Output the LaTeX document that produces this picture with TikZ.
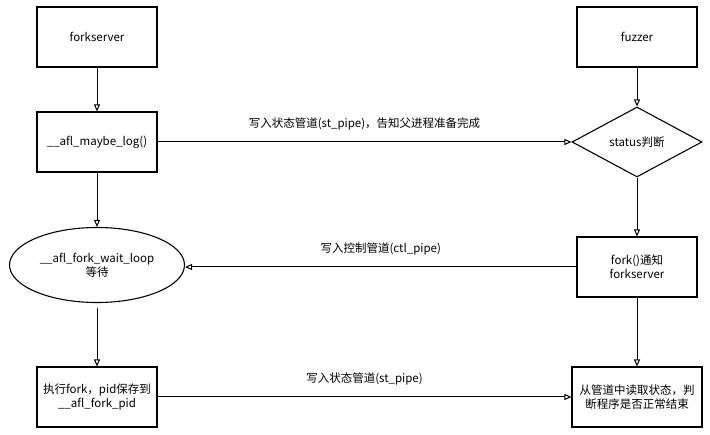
\documentclass[tikz,border=0pt]{standalone}
\usepackage{fontspec}
\setmainfont{Noto Sans CJK SC}
\usetikzlibrary{shapes.geometric,arrows.meta}
\tikzset{
  box/.style={draw,line width=1.1pt,minimum width=120pt,minimum height=60pt,inner sep=2pt,align=center,font=\fontsize{11.5}{14}\selectfont},
  flow/.style={-{Triangle[open,length=7pt,width=6pt]},line width=1pt},
  lbl/.style={font=\fontsize{11.5}{14}\selectfont}
}
\begin{document}
\begin{tikzpicture}[x=1pt,y=-1pt]
  \useasboundingbox (0,0) rectangle (710,435);
  \node [box] (fserver) at (97,37) {forkserver};
  \node [box] (maybelog) at (97,142) {\_\_afl\_maybe\_log()};
  \node [box,ellipse,minimum width=175pt,minimum height=75pt] (waitloop) at (97,265) {\_\_afl\_fork\_wait\_loop\\等待};
  \node [box] (dofork) at (97,397) {执行fork，pid保存到\\\_\_afl\_fork\_pid};
  \node [box] (fuzzer) at (637,37) {fuzzer};
  \node [box,diamond,minimum width=130pt,minimum height=70pt,inner sep=0pt] (status) at (637,142) {status判断};
  \node [box] (notify) at (637,267) {fork()通知\\forkserver};
  \node [box,minimum width=130pt] (readst) at (637,397) {从管道中读取状态，判\\断程序是否正常结束};
  \draw [flow] (fserver) -- (maybelog);
  \draw [flow] (maybelog) -- (waitloop);
  \draw [flow] (waitloop.south) ++(0,5) -- (dofork);
  \draw [flow] (fuzzer) -- (status);
  \draw [flow] (status) -- (notify);
  \draw [flow] (notify) -- (readst);
  \draw [flow] (maybelog) -- node [lbl,above=8pt] {写入状态管道(st\_pipe)，告知父进程准备完成} (status);
  \draw [flow] (notify.west) -- node [lbl,above=8pt] {写入控制管道(ctl\_pipe)} (waitloop.east |- notify.west);
  \draw [flow] (dofork) -- node [lbl,above=8pt] {写入状态管道(st\_pipe)} (readst);
 \end{tikzpicture}
\end{document}
